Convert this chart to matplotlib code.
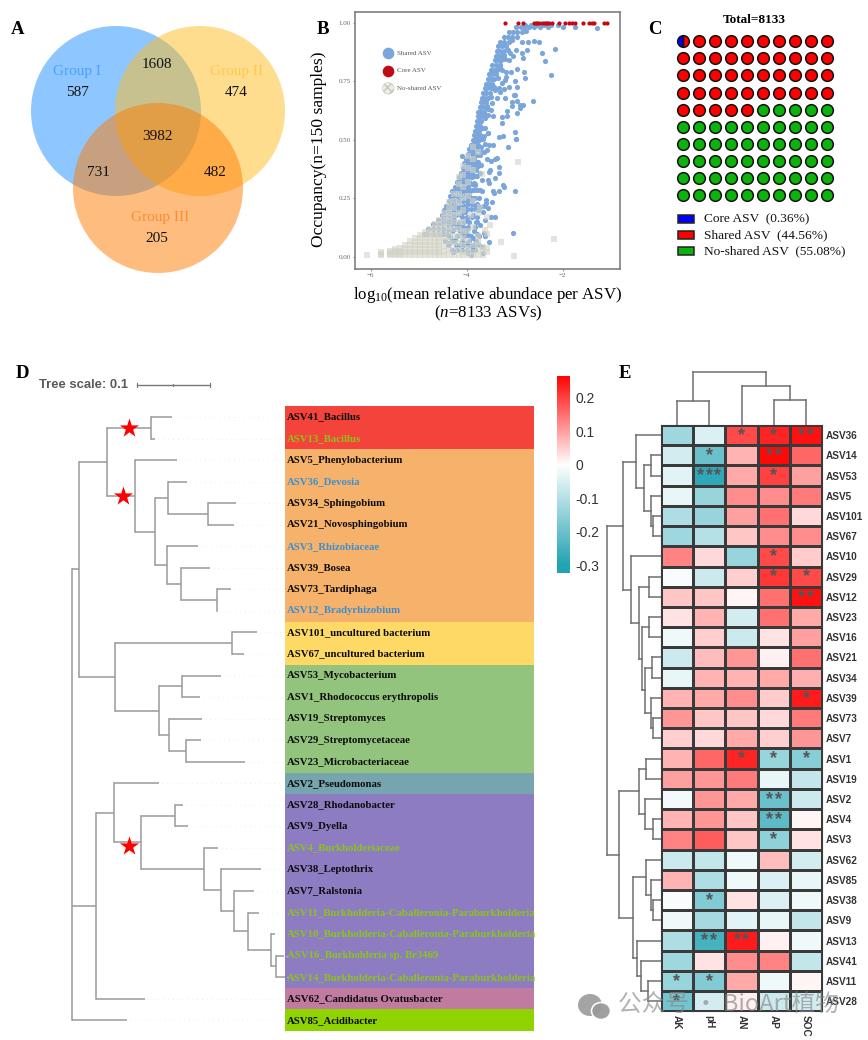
import matplotlib
matplotlib.use("Agg")
import matplotlib.pyplot as plt
import numpy as np
from matplotlib.colors import LinearSegmentedColormap
from matplotlib.patches import Circle, Ellipse, Rectangle

SERIF = "Liberation Serif"
SANS = "Liberation Sans"
plt.rcParams["font.family"] = SERIF
plt.rcParams["mathtext.fontset"] = "custom"
plt.rcParams["mathtext.rm"] = SERIF
plt.rcParams["mathtext.it"] = SERIF + ":italic"

W, H = 868, 1040
fig = plt.figure(figsize=(W / 100, H / 100), dpi=100, facecolor="white")


def axpx(x0, y0, x1, y1, **kw):
    return fig.add_axes([x0 / W, 1 - y1 / H, (x1 - x0) / W, (y1 - y0) / H], **kw)


# ---------- A: Venn ----------
venn_labels = ["Group I", "Group II", "Group III"]
venn_only = [587, 474, 205]
venn_pairs = [1608, 731, 482]
venn_all = 3982

# ---------- B: occupancy / abundance ----------
core_x = [-3.2, -2.94, -2.84, -2.6, -2.57, -2.54, -2.5, -2.44, -2.39, -2.36, -2.33, -2.28, -2.22,
          -2.08, -1.95, -1.88, -1.8, -1.74, -1.58, -1.45, -1.4, -1.36, -1.15, -1.08]
blue_rows = {
    .10: [-4.9, -4.82, -4.7, -4.6, -4.5, -4.42], .12: [-4.8, -4.7, -4.6, -4.5, -4.4, -4.3],
    .14: [-4.7, -4.62, -4.52, -4.42, -4.32, -4.22], .16: [-4.6, -4.52, -4.44, -4.36, -4.26],
    .18: [-4.52, -4.46, -4.38, -4.3, -4.22, -4.12], .20: [-4.47, -4.41, -4.33, -4.25, -4.17, -4.09],
    .22: [-4.43, -4.36, -4.3, -4.22, -4.14, -4.06], .24: [-4.38, -4.3, -4.24, -4.16, -4.08, -4.0],
    .26: [-4.35, -4.28, -4.2, -4.12, -4.04, -3.96], .28: [-4.3, -4.22, -4.15, -4.08, -4.0, -3.94],
    .30: [-4.25, -4.18, -4.12, -4.05, -3.98], .32: [-4.2, -4.14, -4.08, -4.02, -3.96],
    .34: [-4.17, -4.1, -4.04, -3.98, -3.92], .36: [-4.13, -4.07, -4.01, -3.95, -3.89],
    .38: [-4.09, -4.03, -3.97, -3.91, -3.85], .40: [-4.05, -3.99, -3.94, -3.88],
    .42: [-4.02, -3.96, -3.91, -3.85], .44: [-3.98, -3.93, -3.88, -3.82],
    .46: [-3.95, -3.9, -3.85, -3.8], .48: [-3.91, -3.86, -3.81, -3.76],
    .50: [-3.88, -3.83, -3.78, -3.74], .52: [-3.85, -3.8, -3.76, -3.72],
    .54: [-3.83, -3.78, -3.74], .56: [-3.81, -3.76, -3.72], .58: [-3.79, -3.74, -3.7],
    .60: [-3.77, -3.72, -3.67], .62: [-3.76, -3.71, -3.65], .64: [-3.73, -3.68, -3.62],
    .66: [-3.71, -3.66, -3.6], .68: [-3.68, -3.63, -3.56], .70: [-3.66, -3.6, -3.52],
    .72: [-3.63, -3.58, -3.5], .74: [-3.6, -3.54, -3.48], .76: [-3.56, -3.5, -3.43],
    .78: [-3.53, -3.48, -3.4], .80: [-3.5, -3.44, -3.37], .82: [-3.47, -3.4, -3.32],
    .84: [-3.42, -3.36, -3.28], .86: [-3.4, -3.33, -3.25], .88: [-3.37, -3.3, -3.22],
    .90: [-3.35, -3.27, -3.18], .92: [-3.3, -3.22, -3.13], .94: [-3.22, -3.14, -3.05, -2.95],
    .96: [-3.12, -3.04, -2.95, -2.85],
    .98: [-2.98, -2.88, -2.8, -2.7, -2.6, -2.48, -2.32, -2.0, -1.75],
    .99: [-2.78, -2.66, -2.55, -2.4, -2.25, -2.1],
}
blue_right_rows = {
    .03: [-4.3, -4.2, -4.1, -4.0, -3.9], .05: [-4.4, -4.22, -4.05, -3.95, -3.85, -3.75],
    .07: [-4.45, -4.3, -4.1, -3.95, -3.8], .09: [-4.38, -4.2, -4.05, -3.92, -3.75],
    .11: [-4.3, -4.15, -4.02, -3.85], .13: [-4.2, -4.1, -3.98, -3.82], .15: [-4.15, -4.05, -3.95, -3.8],
    .17: [-4.1, -4.0, -3.9, -3.78], .205: [-4.0, -3.92, -3.82], .225: [-3.98, -3.9, -3.78],
    .25: [-3.9, -3.82, -3.75], .285: [-3.86, -3.78], .31: [-3.9, -3.82], .345: [-3.84, -3.78], .37: [-3.8],
    .405: [-3.82, -3.76], .435: [-3.78, -3.72], .47: [-3.74, -3.7], .505: [-3.7, -3.66], .55: [-3.68, -3.63],
    .605: [-3.62, -3.56], .645: [-3.57], .685: [-3.5], .725: [-3.44], .765: [-3.36], .805: [-3.3], .845: [-3.2],
    .885: [-3.15], .925: [-3.05], .965: [-2.76],
}
blue_scatter_x = [
    -1.29, -2.16, -2.73, -2.86, -2.6, -2.49, -2.98, -2.74, -2.86, -2.44, -2.83, -2.37, -2.81, -2.79, -2.25,
    -2.96, -2.99, -2.95, -2.63, -3.02, -2.99, -2.95, -3.06, -2.89, -2.84, -3.06, -2.9, -3.17, -2.96, -3.17,
    -3.26, -3.46, -3.27, -3.62, -2.99, -2.97, -3.24, -3.34, -3.55, -3.64, -3.41, -3.33, -3.22, -3.12, -3.31,
    -3.19, -3.27, -3.2, -3.09, -3.18, -3.13, -3.03, -3.11, -3.22, -3.24, -3.2, -3.5, -3.48, -3.38, -3.55,
    -3.31, -3.27, -3.34, -2.97, -3.15, -3.55, -3.45, -3.53, -3.62, -3.38, -3.41, -3.5, -3.57, -3.72, -3.58,
    -3.65, -4.11, -3.34, -3.52, -3.34, -3.41, -3.53, -3.7, -3.76, -3.83, -3.69, -3.55, -3.53, -3.24, -3.22,
    -2.99, -3.33, -3.45, -3.43, -3.69, -3.6, -3.6, -3.48, -3.65, -3.55, -3.72, -3.83, -3.67, -3.5, -3.41,
    -3.63, -3.79, -3.72, -3.88, -4.0, -3.97, -4.07, -3.79, -3.97, -3.65, -3.62, -3.53, -3.03, -3.88, -4.11,
    -4.24, -4.35, -4.0, -3.88, -3.83, -3.97, -3.92, -3.67, -3.69, -4.14, -4.28, -3.76, -3.9, -3.97, -3.9,
    -3.83, -3.72, -3.9, -3.72, -3.86, -4.04, -4.17, -4.14, -4.28, -4.38,
]
blue_scatter_y = [
    .977, .89, .917, .917, .923, .916, .883, .885, .869, .871, .851, .836, .791, .764, .777,
    .804, .751, .724, .664, .691, .691, .666, .663, .649, .651, .644, .637, .624, .617, .604,
    .596, .602, .573, .592, .535, .506, .516, .511, .53, .516, .713, .723, .717, .724, .706,
    .77, .745, .755, .791, .791, .841, .859, .873, .862, .869, .677, .627, .656, .677, .634,
    .82, .798, .812, .504, .47, .531, .478, .478, .482, .421, .417, .411, .417, .457, .457,
    .45, .431, .386, .371, .36, .339, .364, .393, .388, .386, .329, .329, .317, .307, .297,
    .283, .282, .282, .272, .282, .243, .229, .236, .218, .208, .212, .222, .194, .169, .169,
    .158, .151, .137, .179, .158, .122, .13, .098, .094, .101, .09, .063, .104, .08, .101,
    .073, .087, .061, .044, .03, .016, .009, .016, .041, .051, .023, .2, .243, .258, .286,
    .307, .286, .343, .357, .314, .194, .144, .115, .115, .058,
]
gray_columns = {
    -6.08: [.007], -5.78: [.007, .013, .02], -5.61: [.007, .013, .02, .027],
    -5.49: [.007, .013, .02, .027, .033], -5.39: [.007, .013, .02, .027, .04],
    -5.29: [.007, .02, .033, .053], -5.18: [.007, .02, .033, .05, .067],
    -5.08: [.007, .02, .033, .05, .065, .08], -4.97: [.007, .02, .033, .05, .065, .08, .093],
    -4.87: [.007, .02, .033, .05, .065, .08, .093, .107],
    -4.77: [.007, .02, .033, .05, .065, .08, .093, .107, .12],
    -4.67: [.007, .02, .033, .05, .065, .08, .093, .107, .125, .14],
    -4.57: [.007, .02, .033, .05, .065, .08, .093, .107, .125, .14, .16],
    -4.47: [.007, .027, .047, .067, .087, .107, .127, .147, .167, .187],
    -4.37: [.007, .03, .05, .07, .09, .11, .13, .15, .17, .19, .21, .235],
    -4.27: [.007, .03, .06, .09, .12, .15, .18, .21, .24, .27],
    -4.17: [.007, .03, .06, .09, .12, .15, .19, .23, .27, .31, .34],
    -4.07: [.007, .02, .05, .08, .11, .15, .2, .25, .3, .35, .39],
    -3.97: [.007, .02, .04, .07, .11, .26, .32, .38, .43],
    -3.87: [.007, .02, .05, .13, .24, .37, .42, .47],
    -3.77: [.007, .03, .05, .09, .19, .45], -3.67: [.007, .03, .044],
    -3.57: [.02, .04, .1, .17],
}
gray_extra_x = [-3.68, -2.93, -3.51, -3.62, -3.29, -2.18, -3.01, -3.91, -3.72, -3.76]
gray_extra_y = [.354, .405, .137, .115, .064, .077, .004, .18, .214, .064]

# ---------- C: waffle ----------
waffle_total = 8133
waffle_names = ["Core ASV  (0.36%)", "Shared ASV  (44.56%)", "No-shared ASV  (55.08%)"]
waffle_colors = ["#0000FF", "#FF0000", "#0DB30D"]
waffle_shared_cells = 45
waffle_noshared_cells = 55

# ---------- D: tree ----------
tree_labels = ["ASV41_Bacillus", "ASV13_Bacillus", "ASV5_Phenylobacterium", "ASV36_Devosia", "ASV34_Sphingobium",
               "ASV21_Novosphingobium", "ASV3_Rhizobiaceae", "ASV39_Bosea", "ASV73_Tardiphaga",
               "ASV12_Bradyrhizobium", "ASV101_uncultured bacterium", "ASV67_uncultured bacterium",
               "ASV53_Mycobacterium", "ASV1_Rhodococcus erythropolis", "ASV19_Streptomyces",
               "ASV29_Streptomycetaceae", "ASV23_Microbacteriaceae", "ASV2_Pseudomonas", "ASV28_Rhodanobacter",
               "ASV9_Dyella", "ASV4_Burkholderiaceae", "ASV38_Leptothrix", "ASV7_Ralstonia",
               "ASV11_Burkholderia-Caballeronia-Paraburkholderia", "ASV10_Burkholderia-Caballeronia-Paraburkholderia",
               "ASV16_Burkholderia sp. Br3469", "ASV14_Burkholderia-Caballeronia-Paraburkholderia",
               "ASV62_Candidatus Ovatusbacter", "ASV85_Acidibacter"]
tree_label_class = "kgkbkkbkkbkkkkkkkkkkgkkggggkk"
label_colors = {"k": "#0a0a0a", "g": "#8CC31A", "b": "#3B8FD0"}
band_sizes = [2, 8, 2, 5, 1, 9, 1, 1]
band_colors = ["#F4433A", "#F6B26B", "#FFD966", "#93C47D", "#76A5AF", "#8E7CC3", "#C27BA0", "#8FD400"]
# node = [branch position, children...]; a leaf is its tip position
tree = [71.7,
        [79.3,
         [106.7,
          [150.7, 172.0, 155.0],
          [135.0, 176.7,
           [154.5,
            [168.0, 186.7, [208.0, 236.0, 234.0]],
            [167.0, 198.0, [181.3, 210.0, [217.0, 231.0, 217.3]]]]]],
         [115.0,
          [232.0, 257.0, 243.7],
          [158.7,
           [182.0, 221.0, 200.0],
           [168.7, 202.3, [186.3, 201.0, 245.0]]]]],
        [96.0,
         [113.7, 159.3,
          [140.7,
           [175.0, 183.0, 188.0],
           [203.7, 217.7,
            [221.0, 261.0,
             [234.0, 253.7,
              [248.0, 258.7,
               [270.7, 275.0, [276.0, 283.7, 285.0]]]]]]]],
         145.0],
        127.0]
star_branch_x = [129, 122.5, 129]
star_rows = [0.5, 3.67, 19.9]

# ---------- E: heatmap ----------
hm_rows = ["ASV36", "ASV14", "ASV53", "ASV5", "ASV101", "ASV67", "ASV10", "ASV29", "ASV12", "ASV23", "ASV16", "ASV21",
           "ASV34", "ASV39", "ASV73", "ASV7", "ASV1", "ASV19", "ASV2", "ASV4", "ASV3", "ASV62", "ASV85", "ASV38", "ASV9",
           "ASV13", "ASV41", "ASV11", "ASV28"]
hm_cols = ["AK", "pH", "AN", "AP", "SOC"]
hm_AK = [-.13, -.06, -.04, -.03, -.11, -.13, .13, -.01, .06, .03, -.02, -.07, -.03, .08, .11, .05, .08, .10, -.015, .08,
         .13, -.07, .08, -.01, -.02, -.11, -.13, -.14, -.19]
hm_pH = [-.05, -.2, -.28, -.14, -.14, -.10, .04, -.07, .06, .08, .05, .07, .08, .09, .06, .04, .16, .11, .11, .11, .17,
         -.08, -.11, -.17, -.12, -.25, .03, -.17, -.06]
hm_AN = [.19, .08, .09, .12, .1, .06, -.14, .05, .01, -.06, -.07, .11, .08, .12, .06, .09, .23, .14, .09, .06, .06, -.02,
         -.02, .03, -.04, .24, .12, .09, .015]
hm_AP = [.23, .26, .2, .12, .15, .12, .19, .21, .15, .15, .03, .015, .09, .055, .04, .05, -.14, -.03, -.2, -.22, -.15,
         .07, -.05, -.05, -.03, .015, .13, -.02, -.07]
hm_SOC = [.25, .16, .10, .14, .04, .12, .055, .19, .25, .09, .1, .15, .085, .24, .14, .11, -.16, -.08, -.07, .01, .03,
          -.06, -.03, -.02, -.08, -.02, -.08, .01, -.06]
hm_stars = {(0, 2): 1, (0, 3): 1, (0, 4): 2, (1, 1): 1, (1, 3): 2, (2, 1): 3, (2, 3): 1, (6, 3): 1,
            (7, 3): 1, (7, 4): 1, (8, 4): 2, (13, 4): 1, (16, 2): 1, (16, 3): 1, (16, 4): 1, (18, 3): 2,
            (19, 3): 2, (20, 3): 1, (23, 1): 1, (25, 1): 2, (25, 2): 2, (27, 0): 1, (27, 1): 1,
            (28, 0): 1}
cbar_ticks = [0.2, 0.1, 0, -0.1, -0.2, -0.3]
RT = 660.7
row_dendro = [607.3,
              [622.7,
               [635.7, RT,
                [644.3, [650.7, RT, RT], [650.7, RT, [652.7, RT, RT]]]],
               [630.7, RT,
                [639.0,
                 [648.7, RT, RT],
                 [641.7, [648.7, RT, RT],
                  [645.0, [651.7, RT, RT], [650.7, RT, [653.3, RT, RT]]]]]]],
              [618.7,
               [639.3, [646.0, RT, RT], [645.3, RT, [652.7, RT, RT]]],
               [633.3,
                [646.0, RT, [650.7, RT, [652.7, RT, RT]]],
                [636.7, RT, [640.7, RT, [648.3, RT, RT]]]]]]
TP = 425.0
col_dendro = [372.3, [401.3, TP, TP], [386.0, TP, [400.0, TP, TP]]]


def walk(node, counter, hseg, vseg, leaves=None):
    """Lay a nested tree out: leaves take consecutive rows, nodes the middle of their children."""
    if not isinstance(node, list):
        r = counter[0]
        counter[0] += 1
        if leaves is not None:
            leaves.append((r, node))
        return node, r
    pos = node[0]
    ends = [walk(c, counter, hseg, vseg, leaves) for c in node[1:]]
    for p, r in ends:
        hseg.append((r, pos, p))
    rows = [r for _, r in ends]
    vseg.append((pos, min(rows), max(rows)))
    return pos, (min(rows) + max(rows)) / 2


# ---------- draw A ----------
ax = axpx(0, 0, 300, 300)
ax.set_xlim(0, 300)
ax.set_ylim(300, 0)
ax.axis("off")
for (cx, cy), c in zip([(116, 111), (200, 111), (158, 188)], ["#1E90FF", "#FFBC21", "#FF7B00"]):
    ax.add_patch(Circle((cx, cy), 85, fc=c, ec="none", alpha=0.5))
for (x, y), s, c in zip([(77, 72), (237, 72), (160, 218)], venn_labels, ["#4BA0FF", "#FFC84A", "#FF8C30"]):
    ax.text(x, y, s, color=c, fontsize=11, ha="center", va="center")
for (x, y), v in zip([(77.5, 92), (236, 93), (157, 239), (157, 65), (98, 173), (215, 173), (157, 137)],
                     venn_only + venn_pairs + [venn_all]):
    ax.text(x, y, str(v), color="#111111", fontsize=11, ha="center", va="center")

# ---------- draw B ----------
ax = axpx(355, 12, 620, 269)
ax.set_xlim(-6.33, -0.81)
ax.set_ylim(-0.051, 1.046)
bx = [x for y, xs in blue_rows.items() for x in xs] + [x for y, xs in blue_right_rows.items() for x in xs] + blue_scatter_x
by = [y for y, xs in blue_rows.items() for x in xs] + [y for y, xs in blue_right_rows.items() for x in xs] + blue_scatter_y
gx = [x for x, ys in gray_columns.items() for y in ys] + gray_extra_x
gy = [y for x, ys in gray_columns.items() for y in ys] + gray_extra_y
ax.scatter(bx, by, s=14, color="#7AA6DC", lw=0)
ax.scatter(gx, gy, s=13, marker="s", color="#D3D3C6", alpha=0.6, lw=0)
ax.scatter(core_x, [1.0] * len(core_x), s=9, color="#C00A14", lw=0, zorder=3)
ax.set_xticks([-6, -4, -2])
ax.set_xticklabels(["\u22126", "\u22124", "\u22122"])
ax.set_yticks([0, .25, .5, .75, 1])
ax.set_yticklabels(["0.00", "0.25", "0.50", "0.75", "1.00"])
ax.tick_params(labelsize=5, length=1.5, width=0.5, pad=1.5, colors="#666666")
for s in ax.spines.values():
    s.set_color("#808080")
    s.set_linewidth(1.2)

# ---------- draw C ----------
ax = axpx(674.7, 32.75, 834.7, 203.5)
ax.set_xlim(-.5, 9.5)
ax.set_ylim(9.5, -.5)
ax.axis("off")
cells = [waffle_colors[1]] * waffle_shared_cells + [waffle_colors[2]] * waffle_noshared_cells
for i, c in enumerate(cells):
    if i == 0:
        ax.plot(0, 0, "o", ms=8.4, fillstyle="left", mfc=waffle_colors[0], mfcalt=waffle_colors[1], mec="#111111",
                mew=1.1, clip_on=False)
    else:
        ax.plot(i % 10, i // 10, "o", ms=8.4, mfc=c, mec="#111111", mew=1.1, clip_on=False)

# ---------- draw D ----------
ax = axpx(0, 406.3, 540, 1031)
ax.set_xlim(0, 540)
ax.set_ylim(28.5, -0.5)
ax.axis("off")
start = -0.5
for n, c in zip(band_sizes, band_colors):
    ax.add_patch(Rectangle((284.5, start), 249.5, n, fc=c, ec="none"))
    start += n
hs, vs, leaves = [], [], []
walk(tree, [0], hs, vs, leaves)
for r, b in leaves:
    ax.plot([b + 3, 283], [r, r], color="#eeeeee", lw=0.7, ls=(0, (1, 4)))
for r, a, b in hs:
    ax.plot([a, b], [r, r], color="#9a9a9a", lw=1.1, solid_capstyle="butt", clip_on=False)
for p, a, b in vs:
    ax.plot([p, p], [a, b], color="#9a9a9a", lw=1.1, solid_capstyle="projecting", clip_on=False)
ax.scatter(star_branch_x, star_rows, marker="*", s=210, color="#FF0000", lw=0, zorder=5)
for i, (s, k) in enumerate(zip(tree_labels, tree_label_class)):
    ax.text(287, i, s, color=label_colors[k], fontsize=7.75, fontweight="bold", ha="left", va="center")

# ---------- draw colour bar and heatmap ----------
cmap = LinearSegmentedColormap.from_list("hm", [(0, "#22A3B3"), (0.3 / 0.57, "#FFFFFF"), (1, "#FF0000")])
ax = axpx(556.7, 376, 569.3, 572.7)
grad = np.linspace(0.265, -0.323, 256)[:, None]
ax.imshow(grad, aspect="auto", cmap=cmap, vmin=-0.3, vmax=0.27, extent=[0, 1, -0.323, 0.265])
ax.set_xticks([])
ax.yaxis.tick_right()
ax.set_yticks(cbar_ticks)
ax.set_yticklabels(["0.2", "0.1", "0", "-0.1", "-0.2", "-0.3"], family=SANS, fontsize=10, color="#333333")
ax.tick_params(axis="y", length=0, pad=4.5)
for s in ax.spines.values():
    s.set_visible(False)

matrix = np.array([hm_AK, hm_pH, hm_AN, hm_AP, hm_SOC]).T
ax = axpx(660.7, 425, 822.3, 1011.3)
ax.pcolormesh(np.arange(6) - .5, np.arange(30) - .5, matrix, cmap=cmap, vmin=-0.3, vmax=0.27, edgecolors="#3a3a3a",
              linewidth=0.8)
ax.set_xlim(-.5, 4.5)
ax.set_ylim(28.5, -.5)
ax.yaxis.tick_right()
ax.set_yticks(range(len(hm_rows)))
ax.set_yticklabels(hm_rows, family=SANS, fontsize=7.2, fontweight="bold", color="#333333")
ax.set_xticks(range(len(hm_cols)))
ax.set_xticklabels(hm_cols, family=SANS, fontsize=7.2, fontweight="bold", color="#333333", rotation=270)
ax.tick_params(length=0, pad=2.5)
for s in ax.spines.values():
    s.set_linewidth(0.8)
    s.set_color("#3a3a3a")
for (r, c), k in hm_stars.items():
    for j in range(k):
        ax.text(c + (j - (k - 1) / 2) * 0.27, r + .24, "*", family=SANS, fontsize=13, color="#555555", ha="center",
                va="baseline", fontweight="bold", clip_on=False)

ax = axpx(600, 425, 660.7, 1011.3)
ax.set_xlim(600, 660.7)
ax.set_ylim(28.5, -.5)
ax.axis("off")
hs, vs = [], []
walk(row_dendro, [0], hs, vs)
for r, a, b in hs:
    ax.plot([a, b], [r, r], color="#6f6f6f", lw=1.1, solid_capstyle="projecting")
for p, a, b in vs:
    ax.plot([p, p], [a, b], color="#6f6f6f", lw=1.1, solid_capstyle="projecting")

ax = axpx(660.7, 365, 822.3, 425)
ax.set_xlim(-.5, 4.5)
ax.set_ylim(425, 365)
ax.axis("off")
hs, vs = [], []
walk(col_dendro, [0], hs, vs)
for r, a, b in hs:
    ax.plot([r, r], [a, b], color="#6f6f6f", lw=1.1, solid_capstyle="projecting")
for p, a, b in vs:
    ax.plot([a, b], [p, p], color="#6f6f6f", lw=1.1, solid_capstyle="projecting")

# ---------- overlay: texts ----------
ov = axpx(0, 0, W, H)
ov.set_xlim(0, W)
ov.set_ylim(H, 0)
ov.axis("off")
ov.patch.set_alpha(0)
for s, x, y in [("A", 18, 29), ("B", 323, 29), ("C", 655, 29), ("D", 22, 373), ("E", 625, 373)]:
    ov.text(x, y, s, fontsize=13.5, fontweight="bold", ha="center", va="center", color="black")
ov.text(319, 149, "Occupancy(n=150 samples)", fontsize=12.6, rotation=90, ha="center", va="center")
ov.text(488, 295, r"log$_{10}$(mean relative abundace per ASV)", fontsize=12.2, ha="center", va="center")
ov.text(488, 313, r"($\mathit{n}$=8133 ASVs)", fontsize=12.2, ha="center", va="center")
# B legend
for y, c, s in [(53.3, "#7AA6DC", "Shared ASV"), (70.7, "#C00A14", "Core ASV")]:
    ov.scatter([388.3], [y], s=70, color=c, lw=0)
    ov.text(397, y, s, fontsize=5, color="#555555", va="center")
ov.scatter([388.3], [88.3], s=70, facecolor="#EFEFE8", edgecolor="#C8C8BC", hatch="xxxx", lw=0.4)
ov.text(397, 88.3, "No-shared ASV", fontsize=5, color="#555555", va="center")
# C title and legend
ov.text(754, 20, f"Total={waffle_total}", fontsize=9.5, fontweight="bold", ha="center", va="center")
for y, c, s in zip([219, 235, 251], waffle_colors, waffle_names):
    ov.add_patch(Rectangle((678, y - 3.7), 16, 7.4, fc=c, ec="#222222", lw=1.1))
    ov.text(704, y, s, fontsize=9.6, va="center", color="#111111")
# Tree scale
ov.text(39, 385, "Tree scale: 0.1", family=SANS, fontsize=9.4, fontweight="bold", color="#5a5a5a", va="center")
ov.plot([137, 210], [385, 385], color="#777777", lw=1)
for x, d in [(137, 2), (173, 1), (210, 2)]:
    ov.plot([x, x], [385 - d, 385 + d], color="#777777", lw=0.8)
# watermark
ov.add_patch(Ellipse((590, 1005), 24, 22, fc="#9a9a9a", ec="none", alpha=0.9))
ov.add_patch(Ellipse((601, 1011), 19, 17, fc="#9a9a9a", ec="white", lw=1.2, alpha=0.95))
ov.text(618, 1005, "公众号 · BioArt植物", family=["Noto Sans CJK SC", "DejaVu Sans"], fontsize=17, color="#888888",
        alpha=0.65, ha="left", va="center")
ov.set_xlim(0, W)
ov.set_ylim(H, 0)

fig.savefig("out.png", dpi=100, facecolor="white")
